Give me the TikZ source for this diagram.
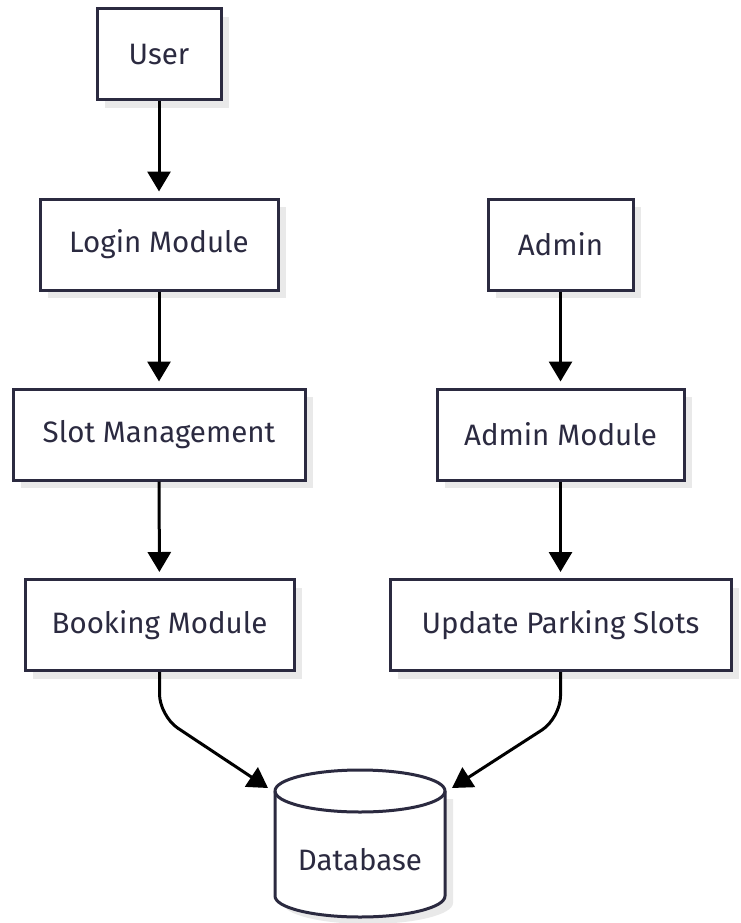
\documentclass[tikz,border=0pt]{standalone}
\usepackage{fontspec}
\setmainfont{Fira Sans}
\usetikzlibrary{arrows.meta}
\definecolor{ink}{HTML}{2B2A40}
\definecolor{shadowgray}{HTML}{E9E9E9}
\tikzset{
  labelfont/.style={font=\fontsize{29.5}{34}\selectfont},
  box/.style={draw=ink, line width=3pt, fill=white, text=ink, labelfont, inner sep=0pt, minimum height=91pt},
  flow/.style={line width=3pt, black, -{Triangle[length=20pt,width=23pt]}},
}
\newcommand{\shadowbox}[5]{% name, cx, cy, width, text
  \fill[shadowgray] (#2-#4/2+8, #3-45.5+8) rectangle (#2+#4/2+8, #3+45.5+8);
  \node[box, minimum width=#4pt] (#1) at (#2,#3) {#5};
}
\begin{document}
\begin{tikzpicture}[x=1pt,y=-1pt]
\useasboundingbox (0,0) rectangle (740,923);
\shadowbox{user}{159}{54.5}{124}{User}
\shadowbox{login}{159}{244.5}{238}{Login Module}
\shadowbox{slot}{159}{434.5}{292}{Slot Management}
\shadowbox{booking}{159.5}{625}{269}{Booking Module}
\shadowbox{admin}{560.5}{244.5}{145}{Admin}
\shadowbox{adminmod}{560.5}{434.5}{247}{Admin Module}
\shadowbox{update}{560.5}{625}{341}{Update Parking Slots}
% database cylinder
\fill[shadowgray] (283,799) -- (283,903) arc[start angle=180,end angle=0,x radius=85,y radius=21] -- (453,799) -- cycle;
\filldraw[draw=ink, fill=white, line width=3pt]
  (275,791) -- (275,896) arc[start angle=180,end angle=0,x radius=85,y radius=21]
  -- (445,791) arc[start angle=360,end angle=180,x radius=85,y radius=21] -- cycle;
\draw[ink, line width=3pt] (275,791) arc[start angle=180,end angle=0,x radius=85,y radius=21];
\node[text=ink, labelfont] (db) at (360,860) {Database};
\coordinate (dbl) at (268,788);
\coordinate (dbr) at (452,788);
% connectors
\draw[flow, shorten >=6pt] (user) -- (login);
\draw[flow, shorten >=6pt] (login) -- (slot);
\draw[flow, shorten >=6pt] (slot) -- (booking);
\draw[flow, shorten >=6pt] (admin) -- (adminmod);
\draw[flow, shorten >=6pt] (adminmod) -- (update);
\draw[flow, rounded corners=22pt] (booking.south) -- (159.5,716) -- (dbl);
\draw[flow, rounded corners=22pt] (update.south) -- (560.5,718) -- (dbr);
\end{tikzpicture}
\end{document}
